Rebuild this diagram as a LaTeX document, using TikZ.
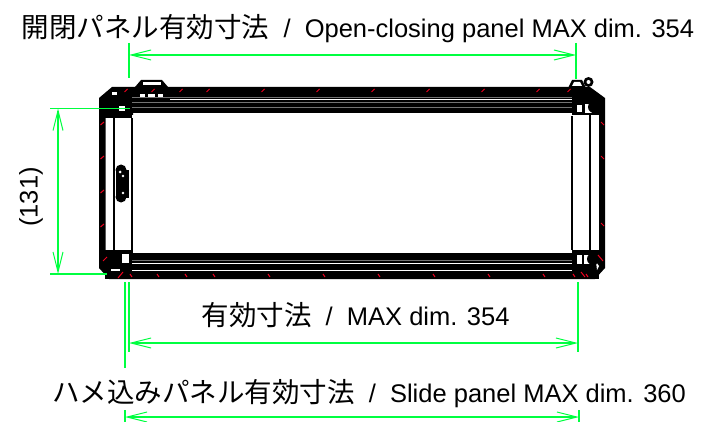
\documentclass[tikz,border=0pt]{standalone}
\usepackage{fontspec}
\setmainfont{Noto Sans CJK JP}
\newfontfamily\latinfont{Liberation Sans}
\usetikzlibrary{arrows.meta}
\definecolor{dimg}{RGB}{0,255,64}
\definecolor{tick}{RGB}{240,0,30}
\newcommand{\lat}[1]{{\latinfont\fontsize{25.5}{28}\selectfont #1}}
\tikzset{
 dimline/.style={draw=dimg,line width=1.2pt},
 dimarrow/.style={dimline,{Straight Barb[length=20pt,width=10pt,line width=1pt]}-{Straight Barb[length=20pt,width=10pt,line width=1pt]}},
 lab/.style={inner sep=0pt,anchor=base,font=\fontsize{27.5}{30}\selectfont,text=black},
 band/.style={fill=black,draw=none},
 hole/.style={fill=white,draw=none},
 thin line/.style={draw=black!55!white,line width=0.9pt},
 wall/.style={draw=black,line width=2.2pt},
 redtick/.style={draw=tick,line width=1pt}
}
\begin{document}
\begin{tikzpicture}[x=1pt,y=-1pt]
\useasboundingbox (0,0) rectangle (706,422);
% frame
\path[band,even odd rule] (112,87) -- (590,87) -- (605,98) -- (605,268) -- (595,279) -- (109,279) -- (99,268) -- (99,98) -- (112,87) -- cycle
 (105.5,115) -- (105.5,262) -- (114,255) -- (133,255) -- (133,253) -- (572,253) -- (572,250) -- (599,250) -- (599,112) -- (572,112) -- (572,113) -- (133,113) -- (133,115) -- cycle;
% panel walls
\draw[wall] (114,115) -- (114,252);
\draw[wall] (132,118) -- (132,252);
\draw[wall] (114,116) -- (132,116);
\draw[wall] (572,116) -- (572,250);
\draw[wall] (590,112) -- (590,252);
% corner blocks
\path[band] (105,100) rectangle (132,118);
\path[band] (105,250) rectangle (133,279);
\path[band] (572,100) rectangle (599,115);
\path[band] (572,250) rectangle (599,279);
\path[hole] (119,106) rectangle (125,111);
\path[hole] (112,92) rectangle (117,95);
\path[hole] (122,254) rectangle (129,263);
\path[hole] (111,269) rectangle (120,271);
\path[hole] (577,105) rectangle (582,112);
\path[hole] (585,104) rectangle (592,113);
\path[hole] (577,255) rectangle (582,264);
\path[hole] (584,255) rectangle (592,264);
\path[hole] (596,262) -- (599,266) -- (597,270) -- cycle;
% corner circles
\path[band] (112,260) circle (7);
\path[band] (594,107) circle (6);
\path[band] (593,259) circle (6);
\path[band] (588.5,82) circle (5);
\path[hole] (588.5,82) circle (2);
\path[band] (572,80) -- (582,80) -- (586,88) -- (568,88) -- cycle;
\path[hole] (574,82) -- (580,82) -- (582,86) -- (572,86) -- cycle;
% top handle
\path[band] (141,80) -- (162,80) -- (168,87) -- (135,87) -- cycle;
\path[hole] (143,82) rectangle (161,85.5);
\path[hole] (140,94) rectangle (145,98);
\path[hole] (148,94) rectangle (155,98);
\path[hole] (158,94) rectangle (163,98);
% top band lines
\draw[thin line] (132,97) -- (572,97);
\draw[white,line width=0.7pt] (170,99) -- (572,99);
\draw[thin line] (132,102) -- (572,102);
\draw[thin line] (132,107) -- (572,107);
% bottom band lines
\draw[thin line] (132,260) -- (572,260);
\draw[white,line width=0.8pt] (132,263) -- (572,263);
\draw[white,line width=0.8pt] (132,270) -- (572,270);
% latch
\path[band] (116,170) rectangle (129,198);
\path[band] (121,170) circle (5.5);
\path[band] (124,178) circle (5);
\path[band] (124,190) circle (5);
\path[band] (121,197) circle (5.5);
\path[hole] (120,172) circle (1.5);
\path[hole] (123,176) circle (1.3);
\path[hole] (123,193) circle (1.3);
% red ticks
\foreach \x in {126,153,181,208,263,318,373,428,483,538,569}{
 \draw[redtick] (\x-1.5,92) -- (\x+1.5,89);}
\foreach \x in {131,158,186,214,269,324,379,434,489,544}{
 \draw[redtick] (\x-1,274) -- (\x+1,277);}
\foreach \y in {125,159,193,227}{\draw[redtick] (100.5,\y) -- (104,\y-3);}
\draw[redtick] (103,261) -- (107,257);
\draw[redtick] (118,278) -- (123,272);
\foreach \y in {124,158,225}{\draw[redtick] (601,\y-2) -- (604,\y+1);}
\draw[redtick] (598,255) -- (603,261);
\draw[redtick] (581,272) -- (585,277);
\draw[redtick] (573,274) -- (575,277);
\draw[redtick] (586,274) -- (588,277);
% dimension extension
\coordinate (t1) at (129,43); \coordinate (t2) at (129,78);
\coordinate (t3) at (576,43); \coordinate (t4) at (576,79);
\coordinate (m1) at (129,282); \coordinate (m2) at (129,352);
\coordinate (m3) at (578,282); \coordinate (m4) at (578,352);
\coordinate (b1) at (125,282); \coordinate (b2) at (125,368);
\coordinate (b3) at (125,410); \coordinate (b4) at (125,422);
\coordinate (b5) at (579,410); \coordinate (b6) at (579,422);
\coordinate (l1) at (50,108.5); \coordinate (l2) at (130,108.5);
\coordinate (l3) at (50,274); \coordinate (l4) at (107,274);
\draw[dimline] (t1)--(t2); \draw[dimline] (t3)--(t4);
\draw[dimline] (m1)--(m2); \draw[dimline] (m3)--(m4);
\draw[dimline] (b1)--(b2); \draw[dimline] (b3)--(b4);
\draw[dimline] (b5)--(b6);
\draw[dimline] (l1)--(l2); \draw[dimline] (l3)--(l4);
\coordinate (ta) at (129,55); \coordinate (tb) at (576,55);
\coordinate (ma) at (129,343); \coordinate (mb) at (578,343);
\coordinate (ba) at (125,417); \coordinate (bb) at (579,417);
\coordinate (la) at (58,108.5); \coordinate (lb) at (58,274);
\draw[dimarrow] (ta)--(tb);
\draw[dimarrow] (ma)--(mb);
\draw[dimarrow] (ba)--(bb);
\draw[dimarrow] (la)--(lb);
% labels
\node[lab] (top) at (358,38) {開閉パネル有効寸法\lat{\ \ /\ \ Open-closing panel MAX dim. 354}};
\node[lab] (mid) at (355.5,325) {有効寸法\lat{\ \ /\ \ MAX dim. 354}};
\node[lab] (bot) at (369,402) {ハメ込みパネル有効寸法\lat{\ \ /\ \ Slide panel MAX dim. 360}};
\node[inner sep=0pt,text=black,rotate=90] (side) at (31,197) {\lat{(131)}};
\end{tikzpicture}
\end{document}
